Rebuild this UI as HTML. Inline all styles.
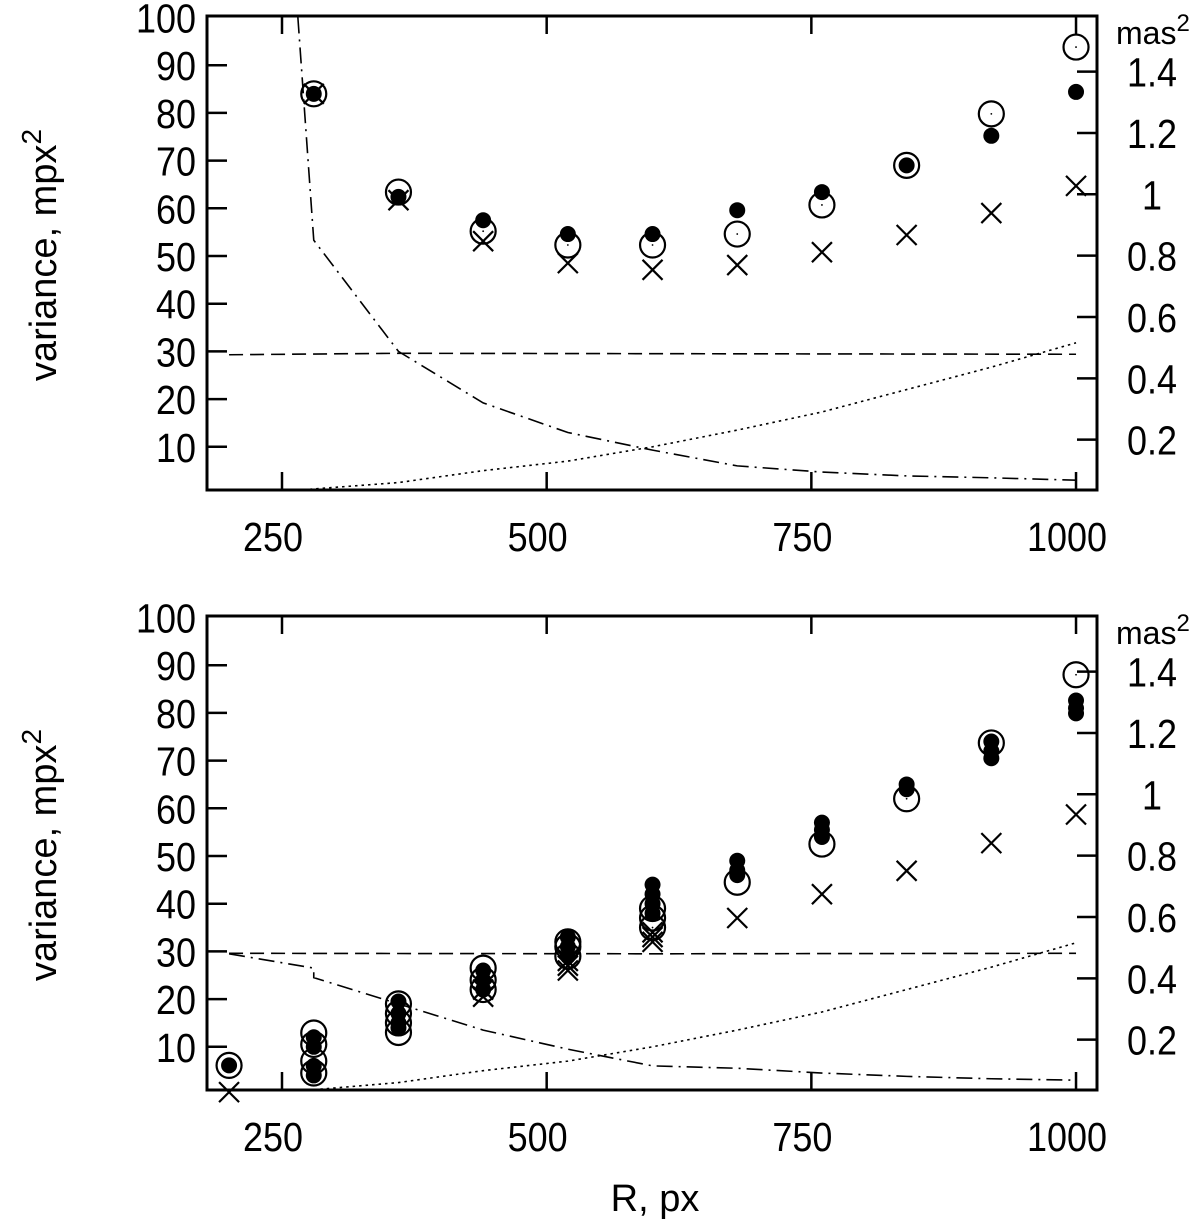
<!DOCTYPE html>
<html><head><meta charset="utf-8"><style>
html,body{margin:0;padding:0;background:#fff;}
svg{display:block;font-family:"Liberation Sans",sans-serif;}
</style></head><body>
<svg id="chart" width="1200" height="1225" viewBox="0 0 1200 1225"></svg>
<script>
const xTicks=[250,500,750,1000];
const yTicks=[10,20,30,40,50,60,70,80,90,100];
const rTicks=[0.2,0.4,0.6,0.8,1,1.2,1.4];
const rTickLabels=["0.2","0.4","0.6","0.8","1","1.2","1.4"];
// top panel
const topR=[280,360,440,520,600,680,760,840,920,1000];
const topOpen=[84,63.4,55.2,52.3,52.3,54.6,60.7,69,79.8,93.8];
const topFilled=[84,62.4,57.5,54.6,54.6,59.6,63.4,69,75.2,84.4];
const topCross=[84,61.7,53.1,48.5,47.1,48.1,50.8,54.4,59,64.7];
const topDashR=[200,360,1000];
const topDashV=[29.3,29.6,29.4];
const topDotR=[270,360,440,520,600,680,760,840,920,1000];
const topDotV=[1,2.5,5,7,10,13.5,17.3,22,26.7,31.8];
const topDashDotR=[265,280,360,440,520,600,680,760,840,920,1000];
const topDashDotV=[100,53.3,30,19.2,13,9.3,6,4.7,3.9,3.5,3];
// bottom panel
const botR=[200,280,360,440,520,600,680,760,840,920,1000];
const botOpen=[[6.1],[12.9,10.5,7,4.5],[19,17,15,13],[26.5,24,22],[32,31,29],[39,37,35],[44.5],[52.5],[62],[73.7],[88]];
const botFilled=[[6.1],[12,10,6,4],[19.5,17,15,14],[26,24,22],[33,31,29],[44,42,40,38],[49,47,46],[57,55.5,54],[65,64],[74,72,70.5],[82.6,81,79.9]];
const botCross=[[0.5],[],[],[20.5,22],[26,27,28],[32,33,34],[37],[42],[46.9],[52.7],[58.7]];
const botDashR=[200,600,1000];
const botDashV=[29.6,29.5,29.6];
const botDotR=[280,360,440,520,600,680,760,840,920,1000];
const botDotV=[1,2.5,5,7,10,13.5,17.3,22,26.7,31.8];
const botDashDotR=[200,280,280,360,440,520,600,680,760,840,920,1000];
const botDashDotV=[29.5,26.5,24.5,19,13.5,9.5,6,5.5,4.5,3.8,3.3,3];

const NS="http://www.w3.org/2000/svg";
const svg=document.getElementById('chart');
function el(tag,attrs,parent){const e=document.createElementNS(NS,tag);for(const k in attrs)e.setAttribute(k,attrs[k]);(parent||svg).appendChild(e);return e;}
const X=r=>282+(r-250)*1.0587;
const L=207,Rt=1097;
function num(t,x,y,anchor,g){
  const s=String(t);
  const tx=el('text',{x:x,y:y,'font-size':41,'text-anchor':anchor,textLength:(s.replace('.','').length*20+(s.includes('.')?10:0)),lengthAdjust:'spacingAndGlyphs'},g);
  tx.textContent=s;return tx;
}

function panel(off,name,d){
  const Y=v=>494.5+off-v*4.77;
  const YR=v=>501+off-v*306.7;
  const top=16+off,bot=490+off;
  const g=el('g',{});
  
  
  xTicks.forEach(t=>{
    const a=el('line',{x1:X(t),x2:X(t),y1:bot,y2:bot-18,stroke:'#000','stroke-width':2.5},g);
    
    el('line',{x1:X(t),x2:X(t),y1:top,y2:top+18,stroke:'#000','stroke-width':2.5},g);
    const tx=num(t,X(t)-9,bot+61,'middle',g);
    
  });
  yTicks.forEach(t=>{
    if(t<100){const a=el('line',{x1:L,x2:L+20,y1:Y(t),y2:Y(t),stroke:'#000','stroke-width':2.5},g);
    }
    const tx=num(t,196,Y(t)+15,'end',g);
    
  });
  rTicks.forEach((t,i)=>{
    const a=el('line',{x1:Rt,x2:Rt-20,y1:YR(t),y2:YR(t),stroke:'#000','stroke-width':2.5},g);
    
    const tx=num(rTickLabels[i],1152,YR(t)+15,'middle',g);
    
  });
  const mu=el('text',{x:1116,y:off+44,'font-size':32},g);
  mu.innerHTML='mas<tspan dy="-13" font-size="24">2</tspan>';
  
  const yt=el('text',{x:0,y:0,'font-size':38,'text-anchor':'middle',transform:`translate(56,${off+255}) rotate(-90)`},g);
  yt.innerHTML='variance, mpx<tspan dy="-15" font-size="28">2</tspan>';
  
  const clip='clip'+off;
  const cp=el('clipPath',{id:clip},g);el('rect',{x:L,y:top,width:Rt-L,height:bot-top},cp);
  const line=(rs,vs,dash,nm)=>{const p=el('polyline',{points:rs.map((r,i)=>X(r)+','+Y(vs[i])).join(' '),fill:'none',stroke:'#000','stroke-width':1.6,'stroke-dasharray':dash,'clip-path':`url(#${clip})`},g);
    };
  line(d.dashR,d.dashV,'14,7','dashed-line');
  line(d.dotR,d.dotV,'2.5,4','dotted-line');
  line(d.ddR,d.ddV,'16,6,2,6','dash-dot-line');
  const flat=(arr,i)=>Array.isArray(arr[i])?arr[i]:[arr[i]];
  d.R.forEach((r,i)=>{
    flat(d.filled,i).forEach(v=>{const c=el('circle',{cx:X(r),cy:Y(v),r:8,fill:'#000'},g);
      });
    flat(d.open,i).forEach(v=>{const c=el('circle',{cx:X(r),cy:Y(v),r:12.5,fill:'none',stroke:'#000','stroke-width':2.2},g);
      
      el('circle',{cx:X(r),cy:Y(v),r:0.9,fill:'#000'},g);});
    flat(d.cross,i).forEach(v=>{const x=X(r),y=Y(v),s=10;
      const p=el('path',{d:`M${x-s},${y-s}L${x+s},${y+s}M${x-s},${y+s}L${x+s},${y-s}`,stroke:'#000','stroke-width':2.2},g);
      });
  });
  const f=el('rect',{x:L,y:top,width:Rt-L,height:bot-top,fill:'none',stroke:'#000','stroke-width':3},g);
  
}
panel(0,'top-panel',{R:topR,open:topOpen,filled:topFilled,cross:topCross,dashR:topDashR,dashV:topDashV,dotR:topDotR,dotV:topDotV,ddR:topDashDotR,ddV:topDashDotV});
panel(600,'bottom-panel',{R:botR,open:botOpen,filled:botFilled,cross:botCross,dashR:botDashR,dashV:botDashV,dotR:botDotR,dotV:botDotV,ddR:botDashDotR,ddV:botDashDotV});
const xt=el('text',{x:655,y:1211,'font-size':38,'text-anchor':'middle'});
xt.textContent='R, px';


</script>
</body></html>
